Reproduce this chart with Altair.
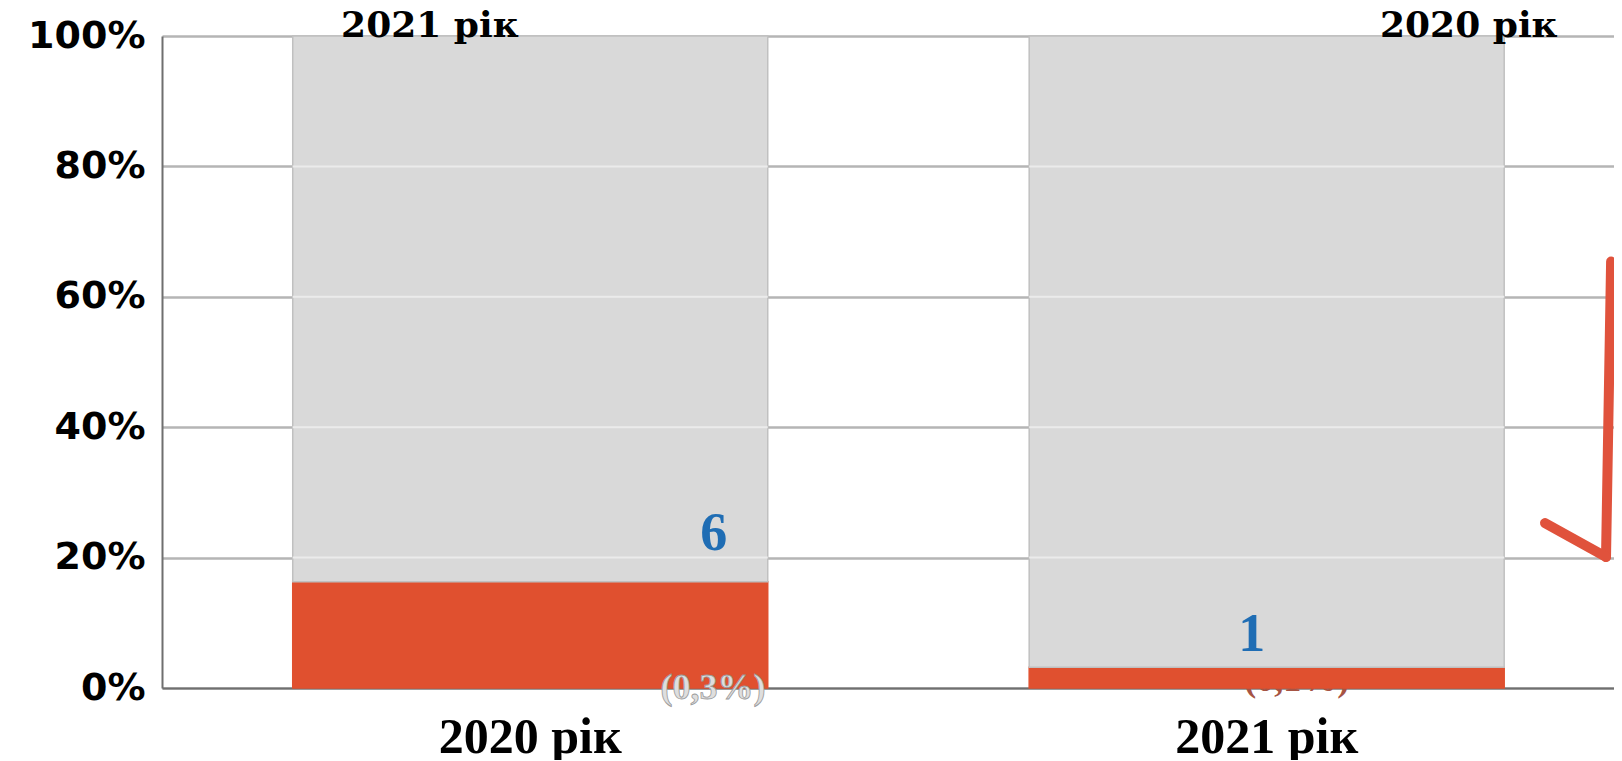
import altair as alt
import pandas as pd

# ---- data ----
years = ["2020 рік", "2021 рік"]
red_pct = [16.3, 3.2]
gray_pct = [83.7, 96.8]
grid_values = [0.2, 0.4, 0.6, 0.8]

count_text = ["6", "1"]
count_pos = [0.760, 1.501]          # in category units (0..2 across the plot)
count_level = [0.236, 0.081]

share_text = ["(0,3%)", "(0,1%)"]
share_pos = [0.759, 1.563]
share_level = [0.0, 0.012]

top_text = ["2021 рік", "2020 рік"]
top_pos = [0.369, 1.800]
top_level = [0.998, 0.998]

arrow_part = ["shaft", "shaft", "barb", "barb"]
arrow_pos = [1.996, 1.989, 1.905, 1.989]
arrow_level = [0.654, 0.201, 0.253, 0.201]

# ---- tables ----
bars = pd.DataFrame({
    "year": years * 2,
    "part": ["red"] * 2 + ["gray"] * 2,
    "ord": [0] * 2 + [1] * 2,
    "value": red_pct + gray_pct,
})
grid_df = pd.DataFrame([{"year": y, "g": g} for y in years for g in grid_values])
count_df = pd.DataFrame({"t": count_text, "x": count_pos, "y": count_level})
share_df = pd.DataFrame({"t": share_text, "x": share_pos, "y": share_level})
top_df = pd.DataFrame({"t": top_text, "x": top_pos, "y": top_level})
arrow_df = pd.DataFrame({"part": arrow_part, "x": arrow_pos, "y": arrow_level,
                         "i": list(range(len(arrow_pos)))})

W = 1452
H = 652

yscale = alt.Scale(domain=[0, 1], nice=False, zero=False)
yaxis = alt.Axis(title=None, values=[0, 0.2, 0.4, 0.6, 0.8, 1.0], format=".0%",
                 labelFont="DejaVu Sans", labelFontWeight="bold", labelFontSize=38,
                 labelColor="#000000", ticks=False, tickSize=0, labelPadding=17,
                 grid=True, gridColor="#b5b5b5", gridWidth=2.5,
                 domainColor="#6f6f6f", domainWidth=2)
xaxis = alt.Axis(title=None, labelAngle=0, labelFont="Liberation Serif",
                 labelFontWeight="bold", labelFontSize=50, labelColor="#000000",
                 labelLimit=0, ticks=False, tickSize=0, labelPadding=24, grid=False,
                 domainColor="#6f6f6f", domainWidth=2)
band_scale = alt.Scale(domain=years, paddingInner=0.355, paddingOuter=0.1633, align=0.5435)
ann_x = alt.X("x:Q", scale=alt.Scale(domain=[0, 2], nice=False, zero=False), axis=None)


def ypos(field):
    return alt.Y(field, scale=yscale, axis=yaxis)


# label mostly hidden behind the second bar
hidden_label = alt.Chart(share_df.iloc[[1]]).mark_text(
    font="Liberation Serif", fontWeight="bold", fontSize=36, color="#a65444",
    baseline="middle", align="center"
).encode(x=ann_x, y=ypos("y:Q"), text="t:N")

bar_layer = alt.Chart(bars).mark_bar(strokeWidth=1.5).encode(
    x=alt.X("year:N", sort=years, scale=band_scale, axis=xaxis),
    y=alt.Y("value:Q", stack="normalize", scale=yscale, axis=yaxis),
    color=alt.Color("part:N", scale=alt.Scale(domain=["red", "gray"], range=["#e0502f", "#d9d9d9"]),
                    legend=None),
    stroke=alt.Stroke("part:N", scale=alt.Scale(domain=["red", "gray"], range=["#e0502f", "#c0c0c0"]),
                      legend=None),
    order=alt.Order("ord:Q"),
)

grid_over = alt.Chart(grid_df).mark_bar(fillOpacity=0, stroke="#ebebeb", strokeWidth=2).encode(
    x=alt.X("year:N", sort=years, scale=band_scale, axis=None),
    y=ypos("g:Q"),
    y2="g:Q",
)

count_layer = alt.Chart(count_df).mark_text(
    font="Liberation Serif", fontWeight="bold", fontSize=54, color="#1f6db4",
    baseline="middle", align="center"
).encode(x=ann_x, y=ypos("y:Q"), text="t:N")

share_layer = alt.Chart(share_df.iloc[[0]]).mark_text(
    font="Liberation Serif", fontWeight="bold", fontSize=36, color="#dedede",
    stroke="#9a9a9a", strokeWidth=0.8, baseline="middle", align="center"
).encode(x=ann_x, y=ypos("y:Q"), text="t:N")

top_layer = alt.Chart(top_df).mark_text(
    font="DejaVu Serif", fontWeight="bold", fontSize=36, color="#000000",
    baseline="alphabetic", align="center"
).encode(x=ann_x, y=ypos("y:Q"), text="t:N")

arrow_layer = alt.Chart(arrow_df).mark_line(
    color="#e0523c", strokeWidth=10, strokeCap="round", strokeJoin="round"
).encode(x=ann_x, y=ypos("y:Q"), detail="part:N", order="i:Q")

chart = alt.layer(
    hidden_label, bar_layer, grid_over, count_layer, share_layer, top_layer, arrow_layer
).resolve_scale(x="independent").resolve_axis(x="independent").properties(
    width=W, height=H,
    padding={"left": 154, "top": 28, "right": 0, "bottom": 72},
    autosize=alt.AutoSizeParams(type="none"),
    background="white",
).configure_view(stroke=None)

chart.save("out.html", embed_options={"renderer": "svg", "actions": False})
